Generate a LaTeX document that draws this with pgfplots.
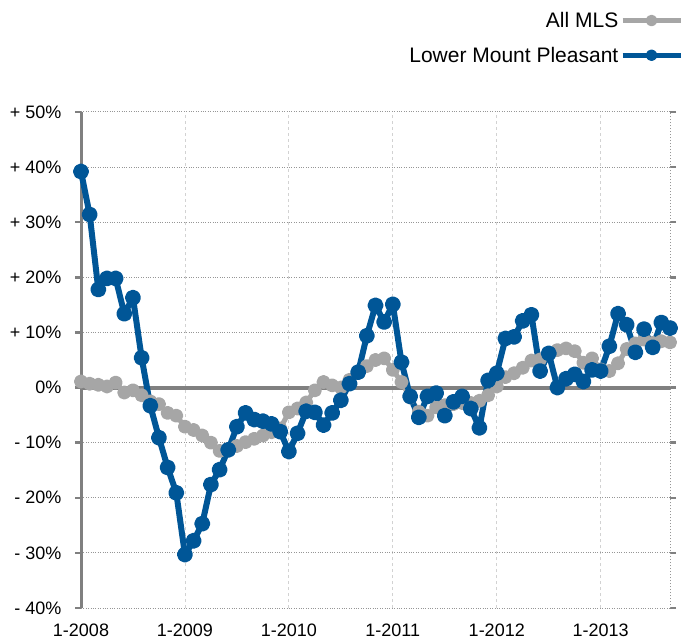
\documentclass[border=0pt]{standalone}
\usepackage{pgfplots}
\pgfplotsset{compat=1.18}
\usepackage{fontspec}
\setmainfont{Liberation Sans}
\definecolor{mlsblue}{RGB}{0,86,151}
\definecolor{mlsgray}{RGB}{166,166,166}
\definecolor{axgray}{RGB}{128,128,128}
\definecolor{gridgray}{RGB}{150,150,150}
\definecolor{vgrid}{RGB}{210,210,210}
\begin{document}
\begin{tikzpicture}
\begin{axis}[
  scale only axis,
  width=589bp, height=496bp,
  xmin=0, xmax=68, ymin=-40, ymax=50,
  clip=false,
  axis line style={draw=none},
  xtick={0,12,24,36,48,60},
  xticklabels={1-2008,1-2009,1-2010,1-2011,1-2012,1-2013},
  ytick={-40,-30,-20,-10,0,10,20,30,40,50},
  yticklabels={- 40\%,- 30\%,- 20\%,- 10\%,0\%,+ 10\%,+ 20\%,+ 30\%,+ 40\%,+ 50\%},
  xtick style={draw=none},
  ytick style={draw=axgray, line width=2.5bp},
  tick align=outside,
  major tick length=6bp,
  xmajorgrids, ymajorgrids,
  major x grid style={vgrid, dashed, line width=0.8bp},
  major y grid style={gridgray, dotted, line width=1bp},
  tick label style={font=\fontsize{18bp}{21bp}\selectfont},
  yticklabel style={xshift=-10bp},
  xticklabel style={yshift=-6bp},
  legend style={at={(1,1)}, anchor=north east, xshift=16bp, yshift=111bp,
    draw=none, fill=none, font=\fontsize{21bp}{25bp}\selectfont,
    nodes={inner ysep=9bp}},
  legend plot pos=right,
  legend cell align=right,
  legend image code/.code={\draw[mark repeat=2,mark phase=2,line width=4.5bp,mark size=3.5bp] plot coordinates {(0bp,0bp) (29bp,0bp) (58bp,0bp)};},
]
\addplot[draw=gridgray, dotted, line width=1bp, forget plot] coordinates {(68,-40) (68,50)};
\addplot[draw=axgray, line width=3bp, forget plot] coordinates {(0,-40) (0,50)};
\addplot[draw=axgray, line width=4bp, forget plot] coordinates {(0,0) (68,0)};
\addplot[mlsgray, line width=5bp, mark=*, mark size=4.5bp, line join=round] table {
x y
0 1.1
1 0.7
2 0.5
3 0.2
4 0.9
5 -0.9
6 -0.5
7 -1.4
8 -2.5
9 -3.0
10 -4.6
11 -5.1
12 -7.1
13 -7.7
14 -8.7
15 -10.0
16 -11.5
17 -11.2
18 -10.6
19 -9.9
20 -9.3
21 -8.7
22 -8.1
23 -7.4
24 -4.5
25 -3.8
26 -2.7
27 -0.5
28 1.0
29 0.4
30 0.0
31 1.4
32 2.7
33 3.9
34 5.0
35 5.3
36 3.2
37 1.0
38 -1.8
39 -4.4
40 -5.1
41 -3.6
42 -3.2
43 -3.0
44 -2.8
45 -2.8
46 -2.4
47 -1.4
48 0.2
49 1.9
50 2.6
51 3.6
52 4.9
53 5.1
54 6.1
55 6.8
56 7.1
57 6.6
58 4.5
59 5.3
60 3.3
61 3.0
62 4.4
63 7.0
64 8.0
65 8.7
66 8.1
67 8.4
68 8.2
};
\addlegendentry{All MLS}
\addplot[mlsblue, line width=6bp, mark=*, mark size=5bp, line join=round] table {
x y
0 39.2
1 31.4
2 17.8
3 19.8
4 19.8
5 13.4
6 16.3
7 5.4
8 -3.3
9 -9.1
10 -14.5
11 -19.1
12 -30.3
13 -27.8
14 -24.7
15 -17.6
16 -14.9
17 -11.3
18 -7.1
19 -4.6
20 -5.8
21 -6.1
22 -6.6
23 -8.0
24 -11.6
25 -8.3
26 -4.3
27 -4.5
28 -6.8
29 -4.6
30 -2.3
31 0.7
32 2.8
33 9.4
34 14.9
35 11.9
36 15.1
37 4.6
38 -1.6
39 -5.4
40 -1.6
41 -1.0
42 -5.1
43 -2.6
44 -1.6
45 -3.8
46 -7.3
47 1.3
48 2.6
49 8.9
50 9.2
51 12.1
52 13.2
53 3.0
54 6.2
55 0.0
56 1.6
57 2.4
58 1.1
59 3.2
60 3.0
61 7.5
62 13.4
63 11.4
64 6.4
65 10.6
66 7.3
67 11.8
68 10.8
};
\addlegendentry{Lower Mount Pleasant}
\end{axis}
\pgfresetboundingbox
\path ([xshift=-81bp,yshift=-28bp]current axis.south west) rectangle ([xshift=22bp,yshift=112bp]current axis.north east);
\end{tikzpicture}
\end{document}
